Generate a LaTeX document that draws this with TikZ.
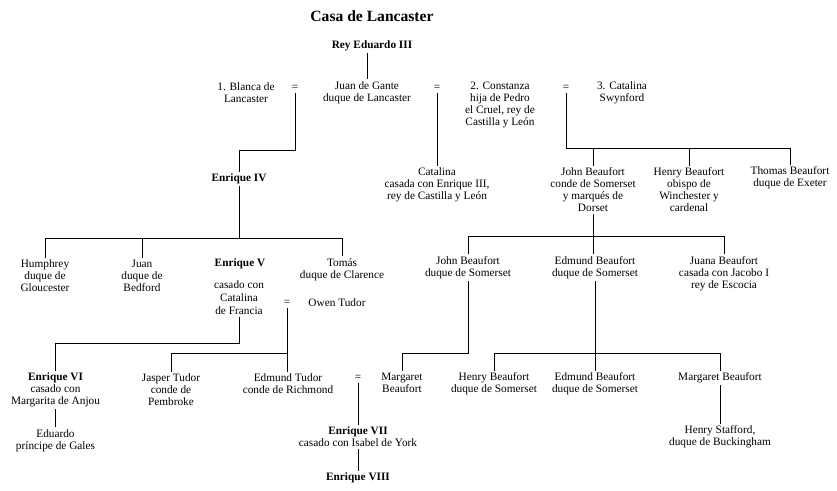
\documentclass[tikz,border=0pt]{standalone}
\usepackage{fontspec}
\setmainfont{Liberation Serif}
\begin{document}
\begin{tikzpicture}[x=1pt,y=-1pt, line width=1pt,
  p/.style={align=center, inner sep=1.5pt, font=\fontsize{11.3}{12}\selectfont},
  k/.style={p, font=\fontsize{11.3}{12}\selectfont\bfseries}]
\useasboundingbox (0,0) rectangle (837,490);
% top
\node[font=\fontsize{15.6}{18}\selectfont\bfseries] (title) at (372,16) {Casa de Lancaster};
\node[k] (rey) at (372,46) {Rey Eduardo III};
\node[p] (blanca) at (246,92.5) {1. Blanca de\\Lancaster};
\node[p] (eq1) at (295,88) {=};
\node[p] (juan) at (367,92.5) {Juan de Gante\\duque de Lancaster};
\node[p] (eq2) at (437,88) {=};
\node[p] (constanza) at (500,104.5) {2. Constanza\\hija de Pedro\\el Cruel, rey de\\Castilla y León};
\node[p] (eq3) at (566,88) {=};
\node[p] (swyn) at (622,92.5) {3. Catalina\\Swynford};
% level 2
\node[k] (e4) at (239,179) {Enrique IV};
\node[p] (catL) at (437,185) {Catalina\\casada con Enrique III,\\rey de Castilla y León};
\node[p] (john1) at (593,190) {John Beaufort\\conde de Somerset\\y marqués de\\Dorset};
\node[p] (henry1) at (689,190) {Henry Beaufort\\obispo de\\Winchester y\\cardenal};
\node[p] (thomas) at (790,178) {Thomas Beaufort\\duque de Exeter};
\coordinate (bus1) at (0,150);
\coordinate (bus2) at (0,148);
\draw (rey.south -| juan.north) -- (juan.north);
\draw (eq1.south) -- (eq1.south |- bus1) -| (e4.north);
\draw (eq2.south) -- (catL.north);
\draw (eq3.south) -- (eq3.south |- bus2) -| (thomas.north);
\draw (john1.north) -- (john1.north |- bus2);
\draw (henry1.north) -- (henry1.north |- bus2);
% level 3 right
\node[p] (john2) at (468,267.5) {John Beaufort\\duque de Somerset};
\node[p] (edm1) at (595,267.5) {Edmund Beaufort\\duque de Somerset};
\node[p] (juana) at (724,273.5) {Juana Beaufort\\casada con Jacobo I\\rey de Escocia};
\coordinate (bus3) at (0,236);
\draw (john1.south) -- (john1.south |- edm1.north);
\draw (john2.north) |- (juana.north |- bus3) -- (juana.north);
% level 4 right
\node[p] (margB1) at (402,383) {Margaret\\Beaufort};
\node[p] (henry2) at (494,384) {Henry Beaufort\\duque de Somerset};
\node[p] (edm2) at (595,384) {Edmund Beaufort\\duque de Somerset};
\node[p] (margB2) at (720,378) {Margaret Beaufort};
\node[p] (stafford) at (720,437) {Henry Stafford,\\duque de Buckingham};
\coordinate (bus4) at (0,353);
\draw (john2.south) |- (margB1.north |- bus4) -- (margB1.north);
\draw (edm1.south) -- (edm2.north);
\draw (henry2.north) |- (margB2.north |- bus4) -- (margB2.north);
\draw (margB2.south) -- (stafford.north);
% level 3 left
\node[p] (humph) at (45,276) {Humphrey\\duque de\\Gloucester};
\node[p] (juanB) at (142,276) {Juan\\duque de\\Bedford};
\node[k] (e5) at (240,264) {Enrique V};
\node[p, font=\fontsize{11.3}{13}\selectfont] (catF) at (239,298) {casado con\\Catalina\\de Francia};
\node[p] (tomas) at (342,269.5) {Tomás\\duque de Clarence};
\node[p] (eq4) at (287,303) {=};
\node[p] (owen) at (337,303) {Owen Tudor};
\coordinate (bus5) at (0,238);
\draw (e4.south) -- (e4.south |- bus5);
\draw (humph.north) |- (tomas.north |- bus5) -- (tomas.north);
\draw (juanB.north) -- (juanB.north |- bus5);
% bottom left
\node[p] (e6) at (55.5,390) {\textbf{Enrique VI}\\casado con\\Margarita de Anjou};
\node[p] (jasper) at (171,390) {Jasper Tudor\\conde de\\Pembroke};
\node[p] (edmT) at (288,384) {Edmund Tudor\\conde de Richmond};
\node[p] (eq5) at (358,378) {=};
\node[p] (eduardo) at (55.5,440.5) {Eduardo\\príncipe de Gales};
\node[p] (e7) at (358,437) {\textbf{Enrique VII}\\casado con Isabel de York};
\node[k] (e8) at (358,478) {Enrique VIII};
\coordinate (bus6) at (0,343);
\coordinate (bus7) at (0,353);
\draw (catF.south) |- (e6.north |- bus6) -- (e6.north);
\draw (eq4.south) -- (eq4.south |- edmT.north);
\draw (jasper.north) |- (eq4.south |- bus7);
\draw (e6.south) -- (eduardo.north);
\draw (eq5.south) -- (e7.north);
\draw (e7.south) -- (e8.north);
\end{tikzpicture}
\end{document}
